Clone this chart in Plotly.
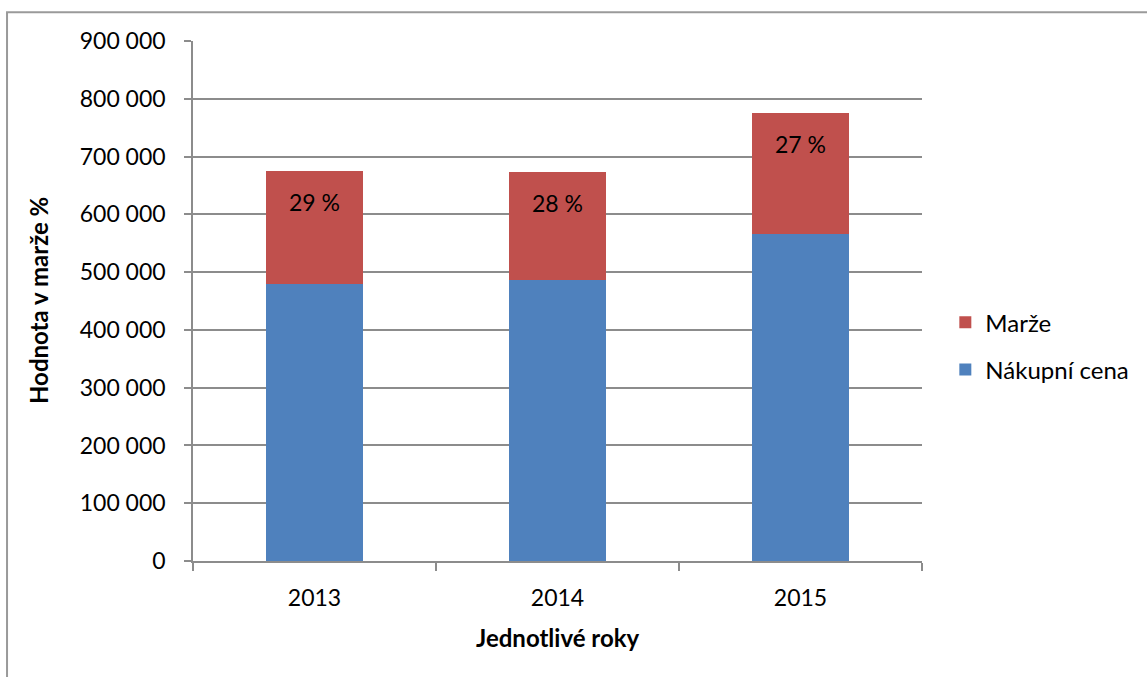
import plotly.graph_objects as go

years = ["2013", "2014", "2015"]
nakupni_cena = [478900, 487000, 565600]
marze = [196400, 187000, 209700]
marze_labels = ["29 %", "28 %", "27 %"]
y_ticks = [0, 100000, 200000, 300000, 400000, 500000, 600000, 700000, 800000, 900000]
y_tick_text = ["0", "100 000", "200 000", "300 000", "400 000", "500 000",
               "600 000", "700 000", "800 000", "900 000"]

FONT = "Lato, Carlito, Calibri, sans-serif"
BLUE = "#4F81BD"
RED = "#C0504D"
GRID = "#8c8c8c"

fig = go.Figure()
fig.add_trace(go.Bar(x=years, y=nakupni_cena, name="Nákupní cena",
                     marker=dict(color=BLUE, line=dict(width=0)),
                     width=0.4, legendgroup="n", legendrank=2, hoverinfo="skip"))
fig.add_trace(go.Bar(x=years, y=marze, name="Marže",
                     marker=dict(color=RED, line=dict(width=0)),
                     width=0.4, legendgroup="m", legendrank=1, hoverinfo="skip"))

totals = [a + b for a, b in zip(nakupni_cena, marze)]
for i, (tot, lab) in enumerate(zip(totals, marze_labels)):
    fig.add_annotation(x=i, y=tot, xref="x", yref="y", text=lab, showarrow=False,
                       yanchor="top", yshift=-15,
                       font=dict(family=FONT, size=23, color="#000000"))

# axis titles
fig.add_annotation(x=0.5, y=0, xref="paper", yref="paper", text="<b>Jednotlivé roky</b>",
                   showarrow=False, yanchor="middle", yshift=-76,
                   font=dict(family=FONT, size=24, color="#000000"))
fig.add_annotation(x=0, y=0.5, xref="paper", yref="paper", text="<b>Hodnota v marže %</b>",
                   showarrow=False, textangle=-90, xanchor="center", xshift=-155,
                   font=dict(family=FONT, size=24, color="#000000"))

# outer chart border
fig.add_shape(type="rect", xref="paper", yref="paper",
              x0=-0.2551, x1=1.33, y0=-0.26, y1=1.0555,
              line=dict(color="#9a9a9a", width=2), layer="below")

fig.update_layout(
    width=1147, height=677,
    margin=dict(l=193.3, r=225.3, t=41.3, b=116.3, pad=0, autoexpand=False),
    paper_bgcolor="white", plot_bgcolor="white",
    barmode="stack",
    font=dict(family=FONT, size=23, color="#000000"),
    showlegend=True,
    legend=dict(x=1.032, y=0.4133, xanchor="left", yanchor="middle",
                traceorder="grouped", tracegroupgap=13,
                font=dict(family=FONT, size=24, color="#000000"),
                bgcolor="rgba(0,0,0,0)", itemclick=False),
    xaxis=dict(type="category", showgrid=False, showline=True, linecolor=GRID,
               linewidth=1.5, ticks="outside", tickson="boundaries",
               ticklen=8, tickcolor=GRID, tickwidth=1.5,
               ticklabelstandoff=16, range=[-0.5, 2.5], automargin=False,
               tickfont=dict(family=FONT, size=23, color="#000000")),
    yaxis=dict(range=[0, 900000], tickvals=y_ticks, ticktext=y_tick_text,
               showgrid=True, gridcolor=GRID, gridwidth=1.5,
               showline=True, linecolor=GRID, linewidth=1.5,
               ticks="outside", ticklen=7, tickcolor=GRID, tickwidth=1.5,
               ticklabelstandoff=14, zeroline=False, automargin=False,
               tickfont=dict(family=FONT, size=23, color="#000000")),
)

fig.write_html("out.html")
